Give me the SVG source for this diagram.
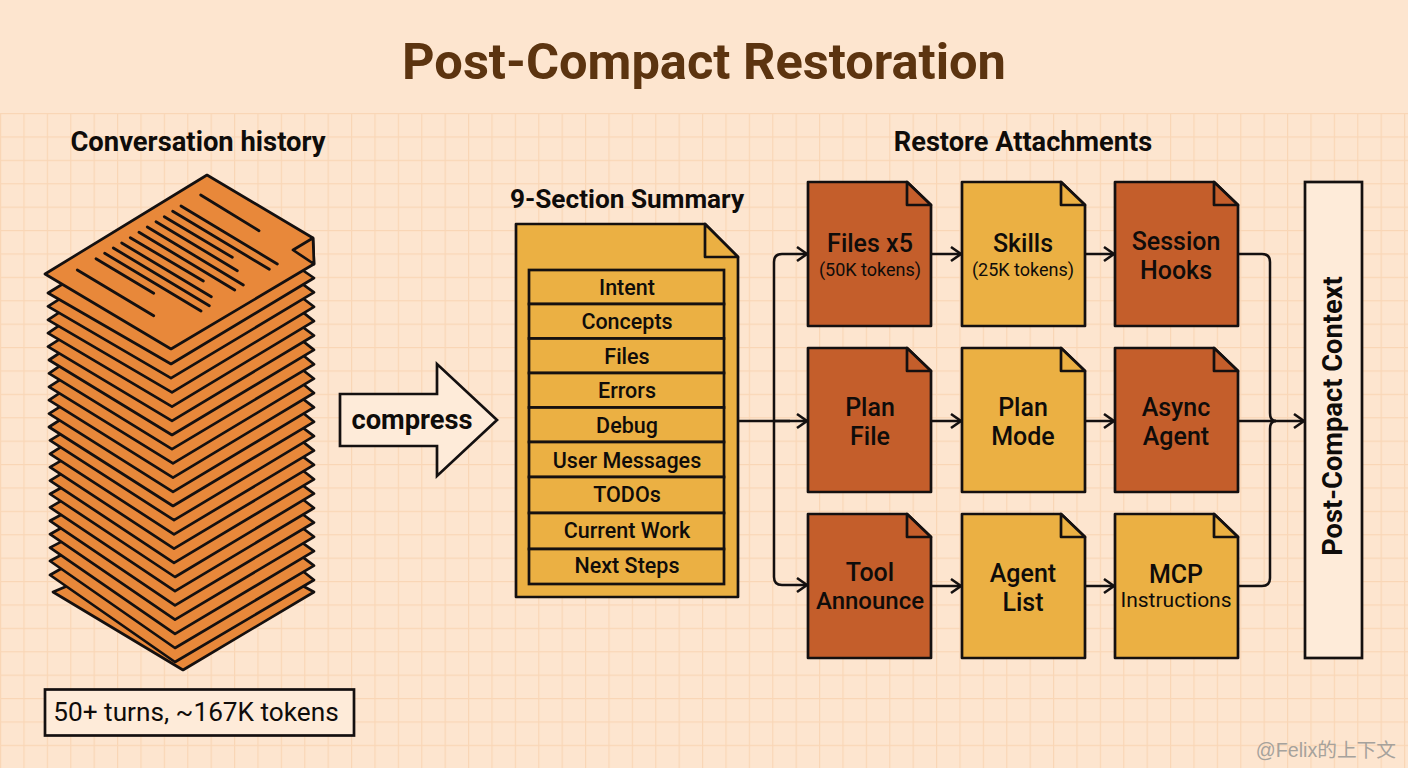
<svg xmlns="http://www.w3.org/2000/svg" width="1408" height="768" viewBox="0 0 1408 768">
<style>
text{font-family:Roboto,"Liberation Sans",sans-serif;fill:#0F0C0A;text-anchor:middle}
.h{font-size:27.4px;font-weight:700}
.n{font-size:25px;font-weight:500}
.s{font-size:18px;font-weight:400}
.r{font-size:21.5px;font-weight:500}
.sheet{fill:#E8883A;stroke:#141010;stroke-width:2.7;stroke-linejoin:round}
.tl{stroke:#141010;stroke-width:2.8;stroke-linecap:round;fill:none}
.rust{fill:#C45E2B}.yel{fill:#EBB043}
.doc,.fold{stroke:#141010;stroke-width:2.7;stroke-linejoin:round}
.line{fill:none;stroke:#141010;stroke-width:2.5;stroke-linejoin:round}
.arr{marker-end:url(#chev)}
.box{fill:#FEEBD9;stroke:#141010;stroke-width:2.7}
.row{fill:#EBB043;stroke:#141010;stroke-width:2.7}
</style>
<defs>
<pattern id="grid" x="0" y="113" width="23.4" height="23.4" patternUnits="userSpaceOnUse">
<path d="M0 0H23.4M0 0V23.4" fill="none" stroke="#F9D6B6" stroke-width="2.4"/>
</pattern>
<marker id="chev" markerUnits="userSpaceOnUse" markerWidth="14" markerHeight="20" refX="12" refY="10" orient="auto" overflow="visible">
<path d="M2 3L12 10L2 17" fill="none" stroke="#141010" stroke-width="2.6"/>
</marker>
</defs>
<rect width="1408" height="768" fill="#FDE5CF"/>
<rect y="113" width="1408" height="655" fill="url(#grid)"/>
<text x="704" y="79" style="font-size:50.6px;font-weight:700;fill:#5C3410">Post-Compact Restoration</text>

<g id="stack">
<text class="h" x="198" y="151">Conversation history</text>
<polygon class="sheet" points="53,592 183,670 314,592 200,530"/>
<polygon class="sheet" points="50,575 175,662 314,580 200,490"/>
<polygon class="sheet" points="50,561 175,648 314,565.6 200,480"/>
<polygon class="sheet" points="50,547.6 175,633.8 314,551.2 200,470"/>
<polygon class="sheet" points="50,534.2 175,619.6 314,536.8 200,450"/>
<polygon class="sheet" points="50,520.8 175,605.4 314,522.5 200,440"/>
<polygon class="sheet" points="50,507.4 175,591.2 314,508 200,420"/>
<polygon class="sheet" points="50,494 175,577 314,493.7 200,410"/>
<polygon class="sheet" points="50,480.6 174,562.8 314,479.3 200,390"/>
<polygon class="sheet" points="50,467.2 174,548.6 314,464.9 200,380"/>
<polygon class="sheet" points="50,453.8 174,534.4 314,450.6 200,360"/>
<polygon class="sheet" points="50,440.4 174,520.2 314,436.2 200,350"/>
<polygon class="sheet" points="49,427 173,506 314,421.8 200,330"/>
<polygon class="sheet" points="49,413.6 173,491.8 314,407.4 200,320"/>
<polygon class="sheet" points="49,400.2 173,477.6 314,393 200,300"/>
<polygon class="sheet" points="49,386.8 173,463.4 314,378.7 200,290"/>
<polygon class="sheet" points="49,373.4 172,449.2 314,364.3 200,270"/>
<polygon class="sheet" points="49,360 172,435 314,349.9 200,260"/>
<polygon class="sheet" points="48,346.6 172,420.8 314,335.5 200,250"/>
<polygon class="sheet" points="48,333.2 172,406.6 314,321.1 200,230"/>
<polygon class="sheet" points="48,319.8 172,392.4 314,306.8 200,220"/>
<polygon class="sheet" points="48,306.4 171,378.2 314,292.4 200,210"/>
<polygon class="sheet" points="48,293 171,364 314,278 200,200"/>
<polygon class="sheet" points="45,274 171,349 314,264 313,238 207,175"/>
<polygon class="sheet" points="313,238 293,250 314,264"/>
<path class="tl" d="M200.7 195L259 230.7M181 206L277.3 264M172.7 211.3L269.3 269.3M164.3 216.7L232.3 257.3M156 221.7L237.3 270.7M147.3 227L243.3 285M139 232.3L234.7 290M130.3 237.7L203.3 281M121.7 243L211.3 296.700M113.300 248L209.300 305.700M104.700 253.300L201 311M96 258.700L153.700 293.300M77.300 270L153.700 315.700"/>
</g>
<g id="tokens">
<rect class="box" x="45" y="689.500" width="309" height="46"/>
<text x="196" y="721" style="font-size:26.2px;font-weight:400">50+ turns, ~167K tokens</text>
</g>
<g id="compress">
<polygon class="box" points="340,394 437,394 437,364 497,420 437,476 437,446 340,446"/>
<text x="412" y="429" style="font-size:27.3px;font-weight:700">compress</text>
</g>

<g id="connectors">
<path class="line" d="M738 421H790"/>
<path class="line arr" d="M774 421H807"/>
<path class="line arr" d="M774 421V262Q774 254 782 254H807"/>
<path class="line arr" d="M774 421V577Q774 585 782 585H807"/>
<path class="line arr" d="M931 254H961"/>
<path class="line arr" d="M931 421H961"/>
<path class="line arr" d="M931 586H961"/>
<path class="line arr" d="M1085 254H1114"/>
<path class="line arr" d="M1085 421H1114"/>
<path class="line arr" d="M1085 586H1114"/>
<path class="line" d="M1238 254H1262Q1270 254 1270 262V413Q1270 421 1276 421"/>
<path class="line" d="M1238 586H1262Q1270 586 1270 578V429Q1270 421 1276 421"/>
<path class="line arr" d="M1238 421H1304"/>
</g>

<g id="summary">
<text class="h" x="627" y="208" style="font-size:26.2px">9-Section Summary</text>
<path class="doc yel" d="M516 224H705L738 257V597H516Z"/>
<path class="fold yel" d="M705 224V257H738Z"/>
<rect class="row" x="529" y="270" width="195" height="34"/>
<rect class="row" x="529" y="304" width="195" height="34.500"/>
<rect class="row" x="529" y="338.500" width="195" height="34.500"/>
<rect class="row" x="529" y="373" width="195" height="34.500"/>
<rect class="row" x="529" y="407.500" width="195" height="34.500"/>
<rect class="row" x="529" y="442" width="195" height="35"/>
<rect class="row" x="529" y="477" width="195" height="36"/>
<rect class="row" x="529" y="513" width="195" height="36"/>
<rect class="row" x="529" y="549" width="195" height="35"/>
<text class="r" x="627" y="295">Intent</text>
<text class="r" x="627" y="329">Concepts</text>
<text class="r" x="627" y="364">Files</text>
<text class="r" x="627" y="398">Errors</text>
<text class="r" x="627" y="433">Debug</text>
<text class="r" x="627" y="468">User Messages</text>
<text class="r" x="627" y="502">TODOs</text>
<text class="r" x="627" y="538">Current Work</text>
<text class="r" x="627" y="573">Next Steps</text>
</g>

<text class="h" x="1023" y="151" style="font-size:27.2px">Restore Attachments</text>

<g id="files">
<path class="doc rust" d="M808 182H907L931 205V326H808Z"/><path class="fold rust" d="M907 182V205H931Z"/>
<text class="n" x="870" y="252">Files x5</text><text class="s" x="870" y="276">(50K tokens)</text>
</g>
<g id="skills">
<path class="doc yel" d="M962 182H1061L1085 205V326H962Z"/><path class="fold yel" d="M1061 182V205H1085Z"/>
<text class="n" x="1023" y="252">Skills</text><text class="s" x="1023" y="276">(25K tokens)</text>
</g>
<g id="hooks">
<path class="doc rust" d="M1115 182H1214L1238 205V326H1115Z"/><path class="fold rust" d="M1214 182V205H1238Z"/>
<text class="n" x="1176" y="250">Session</text><text class="n" x="1176" y="279">Hooks</text>
</g>
<g id="planfile">
<path class="doc rust" d="M808 348H907L931 371V492H808Z"/><path class="fold rust" d="M907 348V371H931Z"/>
<text class="n" x="870" y="416">Plan</text><text class="n" x="870" y="445">File</text>
</g>
<g id="planmode">
<path class="doc yel" d="M962 348H1061L1085 371V492H962Z"/><path class="fold yel" d="M1061 348V371H1085Z"/>
<text class="n" x="1023" y="416">Plan</text><text class="n" x="1023" y="445">Mode</text>
</g>
<g id="async">
<path class="doc rust" d="M1115 348H1214L1238 371V492H1115Z"/><path class="fold rust" d="M1214 348V371H1238Z"/>
<text class="n" x="1176" y="416">Async</text><text class="n" x="1176" y="445">Agent</text>
</g>
<g id="tool">
<path class="doc rust" d="M808 514H907L931 537V658H808Z"/><path class="fold rust" d="M907 514V537H931Z"/>
<text class="n" x="870" y="581">Tool</text><text class="n" x="870" y="609" style="font-size:24px">Announce</text>
</g>
<g id="agent">
<path class="doc yel" d="M962 514H1061L1085 537V658H962Z"/><path class="fold yel" d="M1061 514V537H1085Z"/>
<text class="n" x="1023" y="582">Agent</text><text class="n" x="1023" y="611">List</text>
</g>
<g id="mcp">
<path class="doc yel" d="M1115 514H1214L1238 537V658H1115Z"/><path class="fold yel" d="M1214 514V537H1238Z"/>
<text class="n" x="1176" y="583">MCP</text><text class="s" x="1176" y="607" style="font-size:21px">Instructions</text>
</g>
<g id="context">
<rect class="box" x="1305" y="182" width="57" height="476"/>
<text transform="translate(1342 416) rotate(-90)" style="font-size:27.3px;font-weight:700">Post-Compact Context</text>
</g>
<text x="1396" y="757" style="text-anchor:end;font-size:19.700px;fill:#A6A29C;font-family:'Liberation Sans','Noto Sans CJK SC',sans-serif">@Felix的上下文</text>
</svg>
